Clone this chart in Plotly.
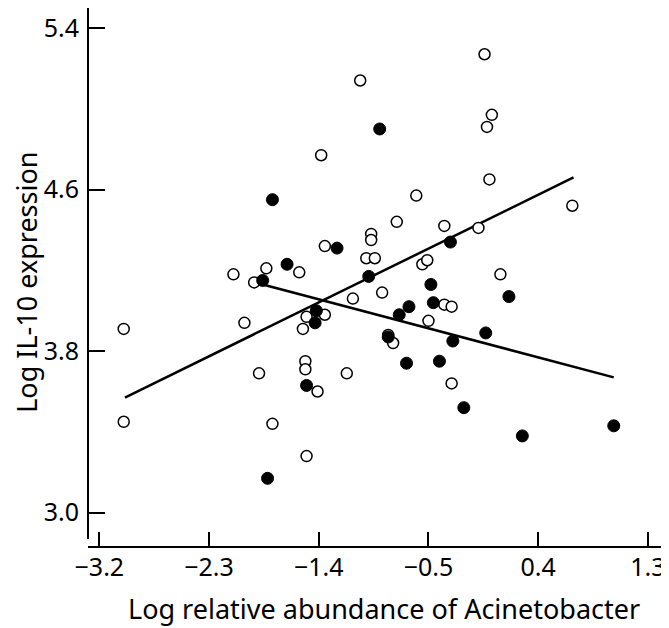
import plotly.graph_objects as go

# log relative abundance (x) and log IL-10 expression (y)
open_x = [-3.00, -3.00, -2.10, -2.01, -1.93, -1.83, -1.56, -1.89, -1.78, -1.38,
          -1.35, -1.35, -1.50, -1.53, -1.51, -1.51, -1.41, -1.50, -1.17, -1.12,
          -1.06, -1.01, -0.94, -0.97, -0.97, -0.88, -0.79, -0.83, -0.76, -0.60,
          -0.55, -0.51, -0.50, -0.37, -0.37, -0.31, -0.31, -0.09, -0.04, -0.02,
          0.02, 0.00, 0.09, 0.68]
open_y = [3.91, 3.45, 4.18, 3.94, 4.14, 4.21, 4.19, 3.69, 3.44, 4.77,
          4.32, 3.98, 3.97, 3.91, 3.75, 3.71, 3.60, 3.28, 3.69, 4.06,
          5.14, 4.26, 4.26, 4.38, 4.35, 4.09, 3.84, 3.88, 4.44, 4.57,
          4.23, 4.25, 3.95, 4.42, 4.03, 4.02, 3.64, 4.41, 5.27, 4.91,
          4.97, 4.65, 4.18, 4.52]

filled_x = [-1.78, -1.86, -1.66, -1.42, -1.43, -1.50, -1.82, -1.25, -0.90, -0.99,
            -0.83, -0.74, -0.66, -0.68, -0.48, -0.46, -0.41, -0.32, -0.30, -0.21,
            -0.03, 0.16, 0.27, 1.02]
filled_y = [4.55, 4.15, 4.23, 4.00, 3.94, 3.63, 3.17, 4.31, 4.90, 4.17,
            3.87, 3.98, 4.02, 3.74, 4.13, 4.04, 3.75, 4.34, 3.85, 3.52,
            3.89, 4.07, 3.38, 3.43]

# fitted lines (end points)
fit_open_x = [-2.99, 0.69]
fit_open_y = [3.57, 4.66]
fit_filled_x = [-1.86, 1.02]
fit_filled_y = [4.13, 3.67]

x_ticks = [-3.2, -2.3, -1.4, -0.5, 0.4, 1.3]
y_ticks = [3.0, 3.8, 4.6, 5.4]

font_name = "Noto Sans"

fig = go.Figure()

fig.add_trace(go.Scatter(x=fit_open_x, y=fit_open_y, mode="lines",
                         line=dict(color="black", width=2.5)))
fig.add_trace(go.Scatter(x=fit_filled_x, y=fit_filled_y, mode="lines",
                         line=dict(color="black", width=2.5)))
fig.add_trace(go.Scatter(x=open_x, y=open_y, mode="markers",
                         marker=dict(size=11, color="white",
                                     line=dict(color="black", width=1.5))))
fig.add_trace(go.Scatter(x=filled_x, y=filled_y, mode="markers",
                         marker=dict(size=12, color="black",
                                     line=dict(color="black", width=1))))

# axis lines drawn by hand, the y line stops short of the x line
fig.add_shape(type="line", xref="paper", yref="paper", x0=0, x1=1, y0=0, y1=0,
              line=dict(color="black", width=2))
fig.add_shape(type="line", xref="paper", yref="paper", x0=0, x1=0, y0=0.0148, y1=1,
              line=dict(color="black", width=2))

fig.add_annotation(text="Log relative abundance of Acinetobacter", xref="paper", yref="paper",
                   x=0.515, y=-0.115, xanchor="center", yanchor="middle", showarrow=False,
                   font=dict(family=font_name, size=27, color="black"))
fig.add_annotation(text="Log IL-10 expression", xref="paper", yref="paper",
                   x=-0.1061, y=0.492, xanchor="center", yanchor="middle", showarrow=False,
                   textangle=-90, font=dict(family=font_name, size=27, color="black"))

# page body has an 8px margin, so the figure is sized to the rest of the window
fig.update_layout(
    width=661, height=620,
    margin=dict(l=80, r=6, t=0, b=81),
    paper_bgcolor="white", plot_bgcolor="white",
    showlegend=False,
    font=dict(family=font_name, size=25, color="black"),
    xaxis=dict(range=[-3.293, 1.424], tickvals=x_ticks, tickformat=".1f",
               ticks="inside", ticklen=15, tickwidth=2, tickcolor="black",
               ticklabelstandoff=3,
               showgrid=False, zeroline=False, showline=False, automargin=False),
    yaxis=dict(range=[2.830, 5.499], tickvals=y_ticks, tickformat=".1f",
               ticks="inside", ticklen=17, tickwidth=2, tickcolor="black",
               ticklabelstandoff=8,
               showgrid=False, zeroline=False, showline=False, automargin=False),
)

fig.write_html("out.html")
